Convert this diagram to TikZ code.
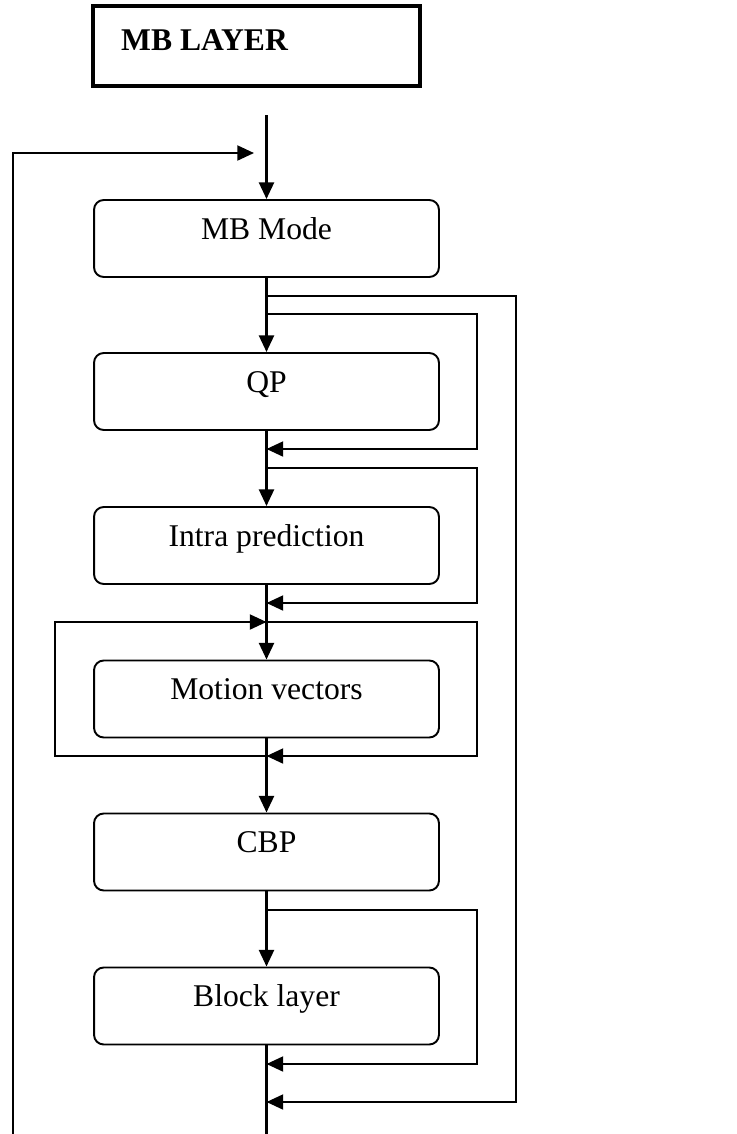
\documentclass[tikz,border=0pt]{standalone}
\usepackage{fontspec}
\setmainfont{Liberation Serif}
\usetikzlibrary{positioning, calc}
\usetikzlibrary{arrows.meta}

\tikzset{
  stage/.style={draw, rounded corners=5.5pt, line width=1.1pt, minimum width=6.9cm, minimum height=1.54cm,
    inner sep=0pt, font=\fontsize{18}{20}\selectfont, text height=0.7em, text depth=0.62em},
  flow/.style={line width=1.5pt, -{Triangle[length=9.5pt,width=8.5pt]}},
  back/.style={line width=1.3pt, -{Triangle[length=9.5pt,width=8.5pt]}},
}

\begin{document}
\begin{tikzpicture}[x=0.02cm, y=-0.02cm]
                \useasboundingbox (0,0) rectangle (737,1134);
                % header box
                \node[draw, line width=2.2pt, minimum width=6.54cm, minimum height=1.6cm] (layer) at (256.5,46) {};
                \node[anchor=base west, font=\bfseries\fontsize{18}{20}\selectfont] (layertxt) at (115,50) {MB LAYER};
                % stages
                \node[stage] (mode) at (266.5,238.5) {MB Mode};
                \node[stage] (qp) at (266.5,391.5) {QP};
                \node[stage] (intra) at (266.5,545.5) {Intra prediction};
                \node[stage] (mv) at (266.5,699) {Motion vectors};
                \node[stage] (cbp) at (266.5,852) {CBP};
                \node[stage] (blk) at (266.5,1006) {Block layer};
                % points on the spine
                \coordinate (in) at (266.5,115);
                \coordinate (out) at (266.5,1134);
                \coordinate (s1) at (266.5,296);
                \coordinate (s2) at (266.5,314);
                \coordinate (s3) at (266.5,449);
                \coordinate (s4) at (266.5,468);
                \coordinate (s5) at (266.5,603);
                \coordinate (s6) at (266.5,622);
                \coordinate (s7) at (266.5,756);
                \coordinate (s8) at (266.5,910);
                \coordinate (s9) at (266.5,1064);
                \coordinate (s10) at (266.5,1102);
                \coordinate (fb0) at (13,1134);
                \coordinate (fb1) at (13,153);
                \coordinate (fbend) at (254,153);
                % main flow
                \draw[flow] (in) -- (mode.north);
                \draw[flow] (mode.south) -- (qp.north);
                \draw[flow] (qp.south) -- (intra.north);
                \draw[flow] (intra.south) -- (mv.north);
                \draw[flow] (mv.south) -- (cbp.north);
                \draw[flow] (cbp.south) -- (blk.north);
                \draw[line width=1.5pt] (blk.south) -- (out);
                \draw[back] (fb0) -- (fb1) -- (fbend);
                % bypass loops
                \draw[back] (s1) -- (516,296) |- (s10);
                \draw[back] (s2) -- (477,314) |- (s3);
                \draw[back] (s4) -- (477,468) |- (s5);
                \draw[back] (s6) -- (477,622) |- (s7);
                \draw[back] (s7) -- (55,756) |- (s6);
                \draw[back] (s8) -- (477,910) |- (s9);
\end{tikzpicture}
\end{document}
